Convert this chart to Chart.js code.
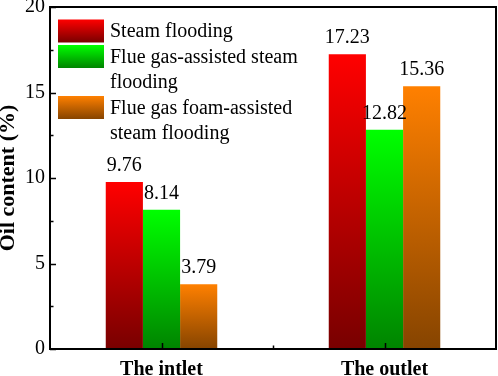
<!DOCTYPE html>
<html>
<head>
<meta charset="utf-8">
<script src="https://cdn.jsdelivr.net/npm/chart.js@4/dist/chart.umd.min.js"></script>
<style>
  body { margin: 0; background: #fff; }
</style>
</head>
<body>
<canvas id="oilChart" width="498" height="376"></canvas>
<script>
const categories = ['The intlet', 'The outlet'];
const steamFlooding = [9.76, 17.23];
const flueGasSteam = [8.14, 12.82];
const flueGasFoamSteam = [3.79, 15.36];
const seriesNames = [
  ['Steam flooding'],
  ['Flue gas-assisted steam', 'flooding'],
  ['Flue gas foam-assisted', 'steam flooding']
];
const yTicks = [0, 5, 10, 15, 20];

const FONT = '"Liberation Serif", "Times New Roman", serif';

// top / bottom colour of each bar's vertical gradient
const gradStops = [
  ['#FF0000', '#780000'],
  ['#00FF00', '#008400'],
  ['#FF8000', '#864400']
];

function barGradient(context) {
  const chart = context.chart;
  if (!chart.chartArea || context.type !== 'data') return gradStops[context.datasetIndex][0];
  const y = chart.scales.y;
  const top = y.getPixelForValue(context.parsed.y);
  const bottom = y.getPixelForValue(0);
  const g = chart.ctx.createLinearGradient(0, top, 0, bottom);
  g.addColorStop(0, gradStops[context.datasetIndex][0]);
  g.addColorStop(1, gradStops[context.datasetIndex][1]);
  return g;
}

// frame, inward ticks, value labels and the legend
const decorations = {
  id: 'decorations',
  afterDatasetsDraw(chart) {
    const c = chart.ctx;
    const area = chart.chartArea;
    const x = chart.scales.x;
    const y = chart.scales.y;
    c.save();

    // value labels
    c.fillStyle = '#000';
    c.font = '20px ' + FONT;
    c.textAlign = 'center';
    c.textBaseline = 'alphabetic';
    chart.data.datasets.forEach((ds, i) => {
      chart.getDatasetMeta(i).data.forEach((bar, j) => {
        c.fillText(ds.data[j].toFixed(2), bar.x, bar.y - 11);
      });
    });

    // ticks
    c.strokeStyle = '#000';
    c.lineWidth = 1.5;
    c.beginPath();
    for (let v = 0; v <= 20; v += 2.5) {
      const py = Math.round(y.getPixelForValue(v)) + 0.5;
      const len = (v % 5 === 0) ? 6 : 3.5;
      c.moveTo(area.left, py);
      c.lineTo(area.left + len, py);
    }
    categories.forEach((cat, i) => {
      const px = Math.round(x.getPixelForValue(i)) + 0.5;
      c.moveTo(px, area.bottom);
      c.lineTo(px, area.bottom - 6);
      if (i > 0) {
        const mx = Math.round((x.getPixelForValue(i) + x.getPixelForValue(i - 1)) / 2) + 0.5;
        c.moveTo(mx, area.bottom);
        c.lineTo(mx, area.bottom - 3.5);
      }
    });
    c.stroke();

    // frame
    c.lineWidth = 2;
    c.strokeRect(area.left, area.top, area.right - area.left, area.bottom - area.top);

    // legend
    let ly = 31;
    c.textAlign = 'left';
    c.textBaseline = 'middle';
    c.font = '20px ' + FONT;
    seriesNames.forEach((lines, i) => {
      const g = c.createLinearGradient(0, ly - 11.5, 0, ly + 11.5);
      g.addColorStop(0, gradStops[i][0]);
      g.addColorStop(1, gradStops[i][1]);
      c.fillStyle = g;
      c.fillRect(area.left + 8, ly - 11.5, 46, 23);
      c.fillStyle = '#000';
      lines.forEach((line, k) => {
        c.fillText(line, area.left + 60, ly + k * 25.5 + 1);
      });
      ly += lines.length * 25.5;
    });
    c.restore();
  }
};

const ctx = document.getElementById('oilChart').getContext('2d');

const oilChart = new Chart(ctx, {
  type: 'bar',
  data: {
    labels: categories,
    datasets: [
      { label: seriesNames[0].join(' '), data: steamFlooding, backgroundColor: barGradient },
      { label: seriesNames[1].join(' '), data: flueGasSteam, backgroundColor: barGradient },
      { label: seriesNames[2].join(' '), data: flueGasFoamSteam, backgroundColor: barGradient }
    ]
  },
  options: {
    responsive: false,
    animation: false,
    layout: { padding: { top: 7, right: 2, left: 0, bottom: 0 } },
    datasets: {
      bar: { categoryPercentage: 0.5, barPercentage: 1.0, borderWidth: 0 }
    },
    plugins: {
      legend: { display: false },
      tooltip: { enabled: false }
    },
    scales: {
      x: {
        grid: { display: false, drawTicks: false },
        border: { display: false },
        ticks: {
          color: '#000',
          padding: 9,
          font: { family: FONT, size: 20, weight: 'bold' }
        },
        afterFit(scale) {
          scale.height = 27;
          scale.paddingLeft = 0;
          scale.paddingRight = 0;
        }
      },
      y: {
        min: 0,
        max: 20,
        afterBuildTicks(scale) { scale.ticks = yTicks.map(v => ({ value: v })); },
        grid: { display: false, drawTicks: false },
        border: { display: false },
        ticks: {
          color: '#000',
          padding: 5,
          font: { family: FONT, size: 20 }
        },
        title: {
          display: true,
          text: 'Oil content (%)',
          color: '#000',
          padding: { top: 0, bottom: 0 },
          font: { family: FONT, size: 22, weight: 'bold', lineHeight: 0.75 }
        },
        afterFit(scale) {
          scale.width = 50;
          scale.paddingTop = 0;
          scale.paddingBottom = 0;
        }
      }
    }
  },
  plugins: [decorations]
});
</script>
</body>
</html>
